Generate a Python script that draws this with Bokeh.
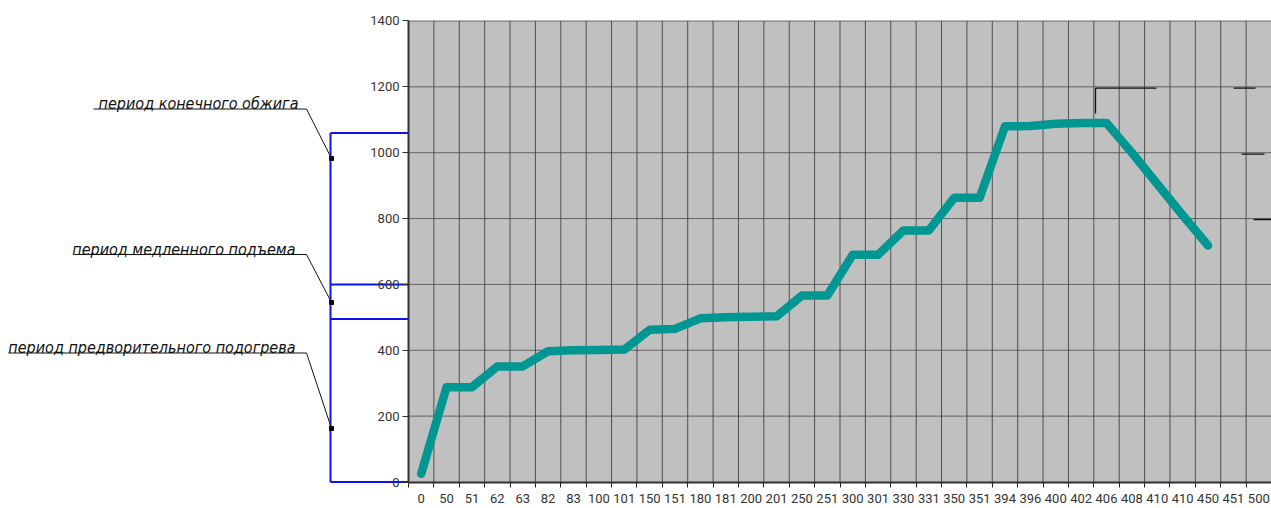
from bokeh.plotting import figure
from bokeh.models import Range1d, FixedTicker
from bokeh.core.properties import value
from bokeh.embed import file_html
from bokeh.resources import INLINE

# ---------------- data ----------------
x_labels = ["0", "50", "51", "62", "63", "82", "83", "100", "101", "150", "151",
            "180", "181", "200", "201", "250", "251", "300", "301", "330", "331",
            "350", "351", "394", "396", "400", "402", "406", "408", "410", "410",
            "450", "451", "500"]
temp_main = [25, 288, 288, 351, 351, 397, 400, 401, 402, 462, 465, 497, 500,
             502, 503, 566, 566, 690, 690, 764, 764, 863, 863, 1080, 1081, 1088,
             1090, 1090, 1000, 905, 810, 718]
temp_red = [25, 283, 283, 351, 351, 393, 398, 399, 399, 456, 457, 497, 500,
            502, 503, 563, 563, 684, 684, 764, 764, 863, 863, 1080, 1081, 1088,
            1090, 1090, 1000, 905, 810, 718]
y_ticks = [0, 200, 400, 600, 800, 1000, 1200, 1400]
period_labels = ["период конечного обжига", "период медленного подъема",
                 "период предворительного подогрева"]
period_bounds = [0, 495, 600, 1060]

# ---------------- layout helpers ----------------
W, H = 1271, 508
AXIS_PX = 408.0                      # page x of the y axis
ZERO_PY = 481.5                      # page y of value 0
PX_PER_UNIT = 0.3293                 # vertical pixels per degree
N = len(x_labels)
CAT_PX = (W - AXIS_PX) / N           # pixels per category


def px2x(xp):
    return (xp - AXIS_PX) / CAT_PX - 0.5


def py2y(yp):
    return (ZERO_PY - yp) / PX_PER_UNIT


p = figure(width=W, height=H, output_backend="svg", toolbar_location=None,
           x_range=Range1d(px2x(0), px2x(W)), y_range=Range1d(py2y(H), py2y(0)),
           min_border=0, background_fill_color="white", border_fill_color="white")
p.outline_line_color = None
p.xgrid.visible = False
p.ygrid.visible = False

GRAY_LINE = "#3c3c3c"
Y_TOP = y_ticks[-1]
# plot area background
p.quad(left=[-0.5], right=[N - 0.5], bottom=[0], top=[Y_TOP],
       fill_color="#c0c0c0", line_color=None)
# vertical grid at category boundaries
bx = [i - 0.5 for i in range(1, N)]
p.segment(x0=bx, y0=[0] * len(bx), x1=bx, y1=[Y_TOP] * len(bx),
          line_color=GRAY_LINE, line_width=1, line_alpha=0.85)
# horizontal grid
gy = y_ticks[1:]
p.segment(x0=[-0.5] * len(gy), y0=gy, x1=[N - 0.5] * len(gy), y1=gy,
          line_color=GRAY_LINE, line_width=1, line_alpha=0.7)

# stray dark strokes seen in the upper right of the original
stray_x0 = [1095, 1233, 1241, 1253, 1095]
stray_x1 = [1156, 1255, 1264, 1271, 1095]
stray_y0 = [87.7, 87.7, 153.7, 219, 87.7]
stray_y1 = [87.7, 87.7, 153.7, 219, 113]
p.segment(x0=[px2x(v) for v in stray_x0], y0=[py2y(v) for v in stray_y0],
          x1=[px2x(v) for v in stray_x1], y1=[py2y(v) for v in stray_y1],
          line_color="#111111", line_width=1.3)

# series
xs = list(range(len(temp_main)))
p.line(xs, temp_red, line_color="#e03a2a", line_width=2)
p.line(xs, temp_main, line_color="#009793", line_width=8.5, line_join="round", line_cap="round")

# ---------------- axes ----------------
TICK_FONT = "Roboto"
xa = p.xaxis[0]
xa.fixed_location = 0
xa.bounds = (-0.5, N - 0.5)
xa.ticker = FixedTicker(ticks=list(range(N)), minor_ticks=[i - 0.5 for i in range(N + 1)])
xa.major_label_overrides = {i: lab for i, lab in enumerate(x_labels)}
xa.axis_line_color = "#333333"
xa.axis_line_width = 2
xa.major_tick_line_color = None
xa.major_tick_out = 0
xa.major_tick_in = 0
xa.minor_tick_out = 5
xa.minor_tick_in = 0
xa.minor_tick_line_color = "#222222"
xa.major_label_standoff = 7
xa.major_label_text_font = TICK_FONT
xa.major_label_text_font_size = "13px"
xa.major_label_text_color = "#333333"

ya = p.yaxis[0]
ya.fixed_location = -0.5
ya.bounds = (0, Y_TOP)
ya.ticker = FixedTicker(ticks=y_ticks)
ya.minor_tick_line_color = None
ya.axis_line_color = "#333333"
ya.axis_line_width = 2
ya.major_tick_out = 6
ya.major_tick_in = 0
ya.major_tick_line_color = "#333333"
ya.major_label_standoff = 3
ya.major_label_text_font = TICK_FONT
ya.major_label_text_font_size = "13px"
ya.major_label_text_color = "#333333"

# ---------------- period annotations ----------------
BLUE = "#1010ee"
bracket_x = px2x(330)
p.segment(x0=[bracket_x], y0=[period_bounds[0]], x1=[bracket_x], y1=[period_bounds[-1]],
          line_color=BLUE, line_width=2)
p.segment(x0=[bracket_x] * len(period_bounds), y0=period_bounds,
          x1=[-0.5] * len(period_bounds), y1=period_bounds,
          line_color=BLUE, line_width=2)

text_right_px = [298, 295, 295]
text_base_px = [103, 248.5, 347]
under_y_px = [108.5, 254, 352.5]
under_left_px = [93, 74, 8]
point_y_px = [158, 302, 428]
under_right_px = 306
point_x_px = 331

p.text(x=[px2x(v) for v in text_right_px], y=[py2y(v) for v in text_base_px],
       text=period_labels, text_align="right", text_baseline="alphabetic",
       text_font=value("DejaVu Sans Condensed"), text_font_style="italic",
       text_font_size="16px", text_color="#111111")
p.segment(x0=[px2x(v) for v in under_left_px], y0=[py2y(v) for v in under_y_px],
          x1=[px2x(under_right_px)] * 3, y1=[py2y(v) for v in under_y_px],
          line_color="#111111", line_width=1)
p.segment(x0=[px2x(under_right_px)] * 3, y0=[py2y(v) for v in under_y_px],
          x1=[px2x(point_x_px)] * 3, y1=[py2y(v) for v in point_y_px],
          line_color="#111111", line_width=1)
p.scatter(x=[px2x(point_x_px)] * 3, y=[py2y(v) for v in point_y_px],
          marker="square", size=4, color="#000000")

open("out.html", "w").write(file_html(p, INLINE))
